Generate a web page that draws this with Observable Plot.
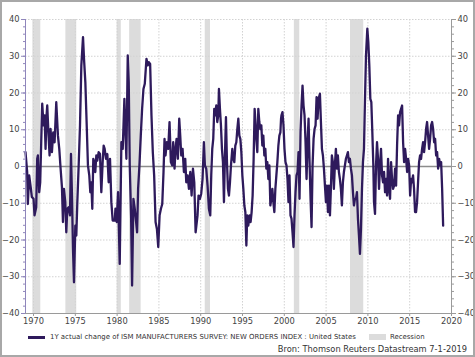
<!DOCTYPE html>
<html>
<head>
<meta charset="utf-8">
<script src="https://cdn.jsdelivr.net/npm/d3@7"></script>
<script src="https://cdn.jsdelivr.net/npm/@observablehq/plot@0.6"></script>
<style>
  html, body { margin: 0; padding: 0; background: #fff; }
  #wrap { position: relative; width: 475px; height: 357px; overflow: hidden; font-family: "DejaVu Sans", sans-serif; }
  #frame { position: absolute; left: 0; top: 0; width: 475px; height: 357px; box-sizing: border-box; border: 2px solid #a8a8a8; pointer-events: none; }
  #chart { position: absolute; left: 0; top: 0; }
  #legend { position: absolute; left: 28px; top: 333px; font-size: 6.95px; color: #333; white-space: nowrap; }
  #legend .sw { display: inline-block; vertical-align: middle; }
  #source { position: absolute; right: 8px; top: 344px; font-size: 8.3px; color: #333; white-space: nowrap; }
</style>
</head>
<body>
<div id="wrap">
  <div id="chart"></div>
  <div id="legend"></div>
  <div id="source"></div>
  <div id="frame"></div>
</div>
<script>
// Series: 1Y actual change of ISM new orders index (years as decimal dates)
const years = [
1969.04,1969.24,1969.32,1969.48,1969.64,1969.80,1970.00,1970.12,1970.32,1970.44,1970.52,1970.68,1970.80,1970.92,
1971.04,1971.20,1971.32,1971.44,1971.56,1971.64,1971.80,1971.92,1972.04,1972.20,1972.36,1972.52,1972.72,1972.92,
1973.08,1973.24,1973.40,1973.52,1973.64,1973.80,1973.92,1974.04,1974.20,1974.36,1974.48,1974.60,1974.72,1974.84,
1975.00,1975.12,1975.24,1975.40,1975.56,1975.72,1975.92,1976.04,1976.20,1976.35,1976.51,1976.67,1976.79,1976.91,
1977.03,1977.15,1977.27,1977.39,1977.51,1977.63,1977.79,1977.95,1978.11,1978.27,1978.39,1978.51,1978.67,1978.83,
1978.99,1979.15,1979.31,1979.47,1979.72,1979.80,1979.95,1980.11,1980.31,1980.51,1980.67,1980.87,1980.99,1981.11,
1981.27,1981.39,1981.51,1981.67,1981.79,1981.95,1982.11,1982.27,1982.39,1982.51,1982.67,1982.83,1982.99,1983.15,
1983.31,1983.43,1983.51,1983.67,1983.79,1983.95,1984.11,1984.27,1984.43,1984.60,1984.76,1984.92,1985.08,1985.24,
1985.40,1985.55,1985.67,1985.79,1985.95,1986.11,1986.27,1986.43,1986.59,1986.71,1986.87,1986.99,1987.11,1987.27,
1987.43,1987.55,1987.67,1987.83,1987.99,1988.15,1988.27,1988.43,1988.59,1988.75,1988.91,1989.07,1989.23,1989.39,
1989.62,1989.74,1989.90,1990.06,1990.22,1990.38,1990.50,1990.66,1990.82,1990.98,1991.14,1991.26,1991.38,1991.50,
1991.62,1991.74,1991.86,1991.98,1992.10,1992.18,1992.30,1992.42,1992.54,1992.66,1992.78,1992.90,1993.02,1993.14,
1993.26,1993.38,1993.50,1993.62,1993.78,1993.90,1994.02,1994.14,1994.26,1994.38,1994.50,1994.62,1994.74,1994.86,
1994.98,1995.10,1995.22,1995.34,1995.46,1995.57,1995.69,1995.85,1995.97,1996.09,1996.21,1996.33,1996.45,1996.57,
1996.65,1996.77,1996.89,1997.01,1997.13,1997.25,1997.37,1997.49,1997.61,1997.73,1997.85,1997.97,1998.09,1998.21,
1998.33,1998.45,1998.57,1998.69,1998.81,1998.93,1999.05,1999.17,1999.29,1999.41,1999.53,1999.61,1999.66,1999.78,
1999.90,2000.02,2000.14,2000.26,2000.38,2000.50,2000.62,2000.74,2000.86,2000.98,2001.10,2001.22,2001.34,2001.46,
2001.58,2001.70,2001.82,2001.94,2002.06,2002.18,2002.30,2002.42,2002.54,2002.66,2002.78,2002.90,2003.02,2003.14,
2003.26,2003.38,2003.50,2003.62,2003.74,2003.86,2003.98,2004.10,2004.26,2004.38,2004.50,2004.62,2004.74,2004.86,
2004.98,2005.10,2005.22,2005.34,2005.46,2005.57,2005.69,2005.81,2005.93,2006.05,2006.17,2006.29,2006.41,2006.53,
2006.65,2006.77,2006.89,2007.01,2007.13,2007.25,2007.37,2007.49,2007.61,2007.73,2007.85,2007.97,2008.09,2008.21,
2008.33,2008.45,2008.57,2008.69,2008.81,2008.93,2009.05,2009.17,2009.29,2009.41,2009.53,2009.61,2009.77,2009.93,
2010.05,2010.17,2010.29,2010.41,2010.53,2010.65,2010.73,2010.85,2010.97,2011.09,2011.21,2011.33,2011.45,2011.57,
2011.69,2011.81,2011.93,2012.05,2012.17,2012.29,2012.41,2012.53,2012.65,2012.77,2012.89,2013.01,2013.13,2013.25,
2013.37,2013.49,2013.61,2013.73,2013.85,2013.97,2014.09,2014.21,2014.33,2014.45,2014.57,2014.69,2014.81,2014.93,
2015.05,2015.17,2015.28,2015.40,2015.52,2015.64,2015.76,2015.88,2016.00,2016.12,2016.24,2016.36,2016.48,2016.60,
2016.72,2016.84,2016.96,2017.08,2017.20,2017.32,2017.44,2017.56,2017.68,2017.80,2017.92,2018.04,2018.16,2018.28,
2018.40,2018.52,2018.64,2018.76,2018.88,2019.00
];
const changes = [
3.9,-1.5,-10.2,-2.4,-5.2,-8.3,-8.8,-13.3,-11.1,2.1,3.0,-7.0,-4.3,6.6,
17.1,11.2,13.9,4.8,13.9,16.6,8.4,3.0,10.2,3.9,9.3,6.6,17.5,8.4,
4.8,-0.6,-5.6,-15.1,-6.1,-9.7,-17.9,-11.5,-11.1,-13.3,3.4,-7.9,-22.4,-31.5,
-16.1,-18.8,-9.7,0.3,11.2,27.5,35.2,29.3,22.9,12.1,0.3,-2.4,-7.0,-4.3,
-11.5,2.1,1.2,-1.5,3.0,1.6,3.9,3.4,-7.0,1.2,5.7,4.8,2.1,3.4,
-4.3,2.1,-9.7,-14.7,-14.7,-11.5,-15.1,-7.0,-26.5,6.6,4.8,18.4,9.3,2.1,
30.2,22.9,0.3,-13.3,-32.4,-8.8,-11.5,-15.1,-17.9,-6.1,0.3,8.4,15.7,21.1,
22.5,26.6,29.3,27.5,28.4,27.9,13.9,3.9,-2.4,-15.1,-17.0,-21.9,-13.3,-11.5,
-10.2,-1.5,7.5,3.0,6.6,4.8,12.1,1.2,0.3,6.6,-0.6,4.8,7.5,2.1,
13.0,8.4,3.0,4.8,-1.5,2.1,-4.3,-2.4,-6.1,-1.5,-7.9,-0.6,-4.3,-17.9,
-13.3,-7.9,-8.8,-7.4,-3.4,6.6,0.3,-0.6,-5.2,-11.5,-13.3,-2.4,4.8,7.5,
15.7,13.9,16.6,12.1,13.9,21.1,15.7,11.2,4.8,1.2,-9.7,3.0,13.4,1.2,
-6.1,-7.9,-4.3,0.3,4.8,2.1,1.2,5.7,6.6,10.2,13.0,8.4,7.5,3.9,
-2.4,-6.1,-10.6,-12.4,-21.5,-13.3,-16.1,-13.3,-15.1,-12.4,-7.9,2.1,15.7,11.2,
7.5,3.9,15.7,12.1,10.2,11.2,5.7,8.4,3.0,4.8,-0.6,1.2,-3.4,0.3,
-10.6,-8.8,-6.1,-9.7,-12.4,-6.1,-2.4,1.2,5.7,8.4,9.3,13.0,13.9,14.8,
11.2,4.8,1.2,0.3,-3.4,-9.7,-2.4,-13.3,-14.2,-17.9,-21.9,-13.3,-7.0,-2.4,
-1.5,3.9,-8.8,9.3,16.6,22.0,16.6,13.9,6.6,-3.4,6.6,13.0,1.2,-8.8,
-16.5,0.3,7.5,10.2,11.2,18.9,13.0,18.4,19.8,12.1,4.8,3.0,-0.6,-5.2,
-9.7,-5.2,-12.4,-5.2,-13.3,-6.1,3.0,1.2,-6.1,0.3,4.8,-0.6,3.0,-1.5,
-3.4,-6.1,-10.6,-4.3,-1.5,0.3,2.1,3.0,3.9,1.2,2.1,-0.6,-2.4,-7.0,
-10.6,-8.8,-8.8,-7.0,-14.2,-18.8,-23.8,-17.0,-6.1,1.2,4.8,13.9,30.2,37.5,
33.8,27.5,18.4,17.5,9.3,0.3,-9.7,-12.9,0.3,6.6,2.1,-6.1,0.3,4.8,
-2.4,-4.3,-1.5,-7.0,-3.4,-7.9,2.1,-6.1,-8.8,1.2,-3.4,-6.1,-5.2,-0.6,
-5.2,5.7,13.9,11.2,14.8,15.7,16.6,6.6,1.2,4.8,2.1,-1.5,2.1,0.3,
-7.9,-3.4,-4.3,-2.4,-6.1,-12.4,-12.4,-9.7,-4.3,1.2,3.0,2.1,4.8,6.6,
3.9,6.6,10.2,12.1,8.4,4.8,7.5,11.2,12.1,10.2,6.6,7.5,3.0,3.9,
-0.6,2.1,0.3,1.2,-6.1,-16.1
];
// US recessions (decimal years)
const recessionStart = [1969.92, 1973.87, 1980.00, 1981.50, 1990.54, 2001.20, 2007.92];
const recessionEnd   = [1970.87, 1975.17, 1980.50, 1982.87, 1991.17, 2001.85, 2009.50];
// Axis ticks
const xTicks = [1970, 1975, 1980, 1985, 1990, 1995, 2000, 2005, 2010, 2015, 2020];
const yTicks = [-40, -30, -20, -10, 0, 10, 20, 30, 40];
const yMinorTicks = d3.range(-40, 41, 2);
const seriesLabel = "1Y actual change of ISM MANUFACTURERS SURVEY: NEW ORDERS INDEX : United States";
const recessionLabel = "Recession";
const sourceLabel = "Bron: Thomson Reuters Datastream 7-1-2019";

const series = years.map((y, i) => ({year: y, value: changes[i]}));
const recessions = recessionStart.map((s, i) => ({start: s, end: recessionEnd[i]}));

const lineColor = "#2e1a5c";
const leftAxisColor = "#8f86bb";
const axisGray = "#9a9a9a";
const gridColor = "#d2d2d2";
const xMin = 1969.04, xMax = 2020;
const noLabel = () => "";

const chart = Plot.plot({
  width: 475,
  height: 330,
  marginLeft: 25,
  marginRight: 24,
  marginTop: 19,
  marginBottom: 17,
  style: {fontFamily: "DejaVu Sans, sans-serif", fontSize: "8.3px", background: "transparent", overflow: "visible"},
  x: {domain: [xMin, xMax], label: null},
  y: {domain: [-40, 40], label: null},
  marks: [
    Plot.rect(recessions, {x1: "start", x2: "end", fill: "#dcdcdc"}),
    Plot.gridY(yTicks.filter(d => d !== 0 && d !== -40), {stroke: gridColor, strokeOpacity: 1, strokeDasharray: "1.5,1.5"}),
    Plot.gridX(xTicks.filter(d => d !== 2020), {stroke: gridColor, strokeOpacity: 1, strokeDasharray: "1.5,1.5"}),
    Plot.ruleY([0], {stroke: "#8c8c8c", strokeWidth: 1.5}),
    Plot.line(series, {x: "year", y: "value", stroke: lineColor, strokeWidth: 2.3, strokeLinejoin: "round"}),
    Plot.ruleY([-40], {stroke: axisGray}),
    Plot.ruleX([xMax], {stroke: axisGray}),
    Plot.ruleX([xMin], {stroke: leftAxisColor}),
    Plot.axisY(yMinorTicks, {anchor: "left", tickSize: 2, stroke: leftAxisColor, tickFormat: noLabel, label: null}),
    Plot.axisY(yTicks, {anchor: "left", tickSize: 4, tickPadding: 2, stroke: leftAxisColor, fill: "#444", label: null}),
    Plot.axisY(yMinorTicks, {anchor: "right", tickSize: 2, stroke: axisGray, tickFormat: noLabel, label: null}),
    Plot.axisY(yTicks, {anchor: "right", tickSize: 4, tickPadding: 2, stroke: axisGray, fill: "#444", label: null}),
    Plot.axisX(xTicks, {anchor: "bottom", tickSize: 3, tickPadding: 2, stroke: axisGray, fill: "#444", tickFormat: d => String(d), label: null})
  ]
});
document.getElementById("chart").appendChild(chart);

const legend = document.getElementById("legend");
legend.innerHTML =
  `<span class="sw" style="width:17px;height:3px;background:${lineColor};margin-right:5px"></span>` +
  `<span style="vertical-align:middle">${seriesLabel}</span>` +
  `<span class="sw" style="width:17px;height:6px;background:#dcdcdc;margin-left:13px;margin-right:4px"></span>` +
  `<span style="vertical-align:middle">${recessionLabel}</span>`;
document.getElementById("source").textContent = sourceLabel;
</script>
</body>
</html>
